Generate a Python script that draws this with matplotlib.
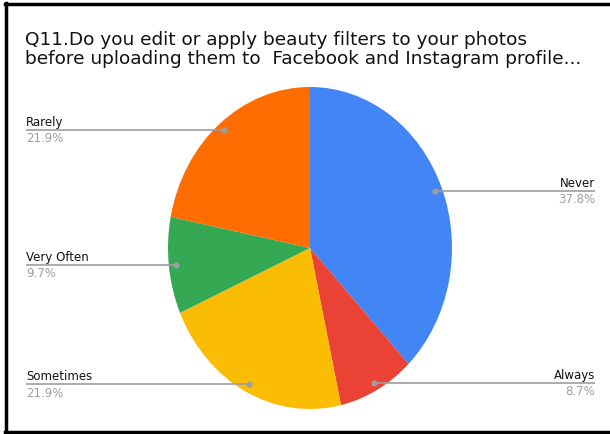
import numpy as np
import matplotlib
matplotlib.use("Agg")
import matplotlib.pyplot as plt
from matplotlib.lines import Line2D

# Survey answers
categories = ["Never", "Always", "Sometimes", "Very Often", "Rarely"]
shares = [37.8, 8.7, 21.9, 9.7, 21.9]
colors = ["#4285F4", "#EA4335", "#FBBC04", "#34A853", "#FF6D01"]
label_side = ["right", "right", "left", "left", "left"]
title = ("Q11.Do you edit or apply beauty filters to your photos\n"
         "before uploading them to  Facebook and Instagram profile...")

W, H = 610, 435
fig = plt.figure(figsize=(W / 100, H / 100), dpi=100)
fig.patch.set_facecolor("white")

# Pie centre and radii in pixels (the pie is drawn slightly stretched vertically)
cx, cy, rx, ry = 310, 249, 142, 161
ax = fig.add_axes([(cx - rx) / W, (H - cy - ry) / H, 2 * rx / W, 2 * ry / H])
wedges, _ = ax.pie(shares, colors=colors, startangle=90, counterclock=False,
                   radius=1.0, wedgeprops=dict(linewidth=0))
ax.set_aspect("auto")
ax.set_xlim(-1, 1)
ax.set_ylim(-1, 1)
ax.axis("off")

# Overlay axes in pixel units for leader lines and labels
ov = fig.add_axes([0, 0, 1, 1], facecolor="none")
ov.set_xlim(0, W)
ov.set_ylim(H, 0)
ov.axis("off")

font = "DejaVu Sans"
left_x, right_x = 26, 595
for w, name, val, side in zip(wedges, categories, shares, label_side):
    mid = np.deg2rad((w.theta1 + w.theta2) / 2)
    px = cx + 0.95 * rx * np.cos(mid)
    py = cy - 0.95 * ry * np.sin(mid)
    tx = left_x if side == "left" else right_x
    ha = "left" if side == "left" else "right"
    ov.plot([tx, px], [py, py], color="#9e9e9e", lw=1.2, solid_capstyle="butt")
    ov.plot([px], [py], "o", color="#9e9e9e", ms=3.5)
    ov.text(tx, py - 2, name, ha=ha, va="bottom", fontsize=8.5,
            color="#111111", family=font)
    ov.text(tx, py + 1.5, f"{val}%", ha=ha, va="top", fontsize=8.5,
            color="#9e9e9e", family=font)

ov.text(25, 31, title, ha="left", va="top", fontsize=13.3, color="#111111",
        family=font, linespacing=1.08)

# Frame
ov.add_line(Line2D([6, 6], [4, 433], color="black", lw=2.5))
ov.add_line(Line2D([4.8, W], [5, 5], color="black", lw=2.5))
ov.add_line(Line2D([4.8, W], [432.5, 432.5], color="black", lw=2.5))

fig.savefig("out.png", dpi=100, facecolor="white")
